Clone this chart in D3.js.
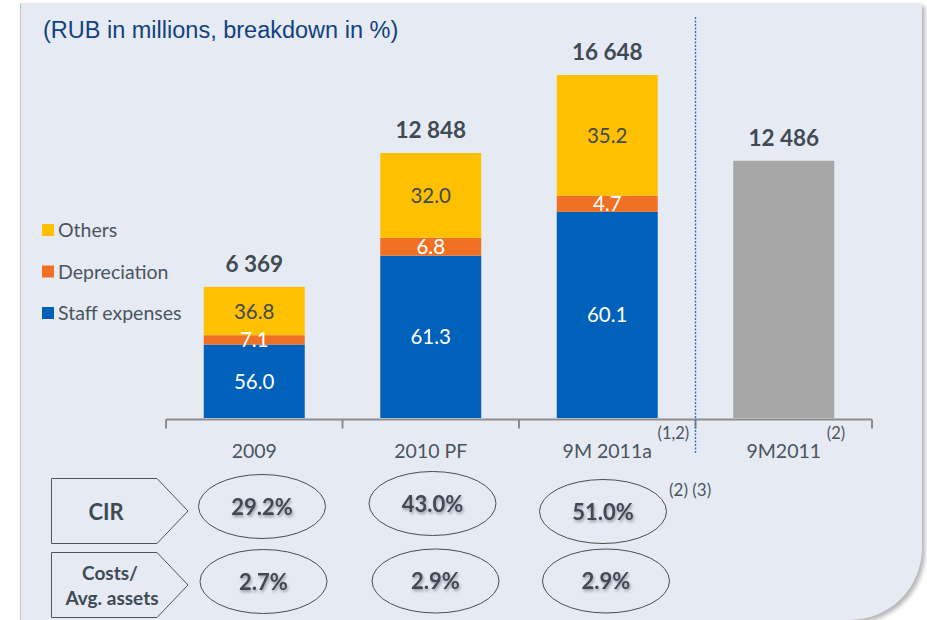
<!DOCTYPE html>
<html><head><meta charset="utf-8">
<script src="https://cdn.jsdelivr.net/npm/d3@7"></script>
<style>
html,body{margin:0;padding:0;background:#fff;}
svg{display:block;}
</style></head>
<body>
<svg id="c" width="927" height="620"></svg>
<script>
const categories = ["2009", "2010 PF", "9M 2011a", "9M2011"];
const superscripts = ["", "", "(1,2)", "(2)"];
const totals = [6369, 12848, 16648, 12486];
const staffPct = [56.0, 61.3, 60.1, null];
const deprPct = [7.1, 6.8, 4.7, null];
const othersPct = [36.8, 32.0, 35.2, null];
const seriesNames = ["Staff expenses", "Depreciation", "Others"];
const cirLabels = ["29.2%", "43.0%", "51.0%"];
const costAssetLabels = ["2.7%", "2.9%", "2.9%"];

const colors = {"Staff expenses": "#0061bb", "Depreciation": "#f07124", "Others": "#ffc000"};
const greyBar = "#a6a6a6";
const darkText = "#3f4a55";
const calibri = "Lato, 'Open Sans', sans-serif";

const svg = d3.select("#c");
const defs = svg.append("defs");
const f = defs.append("filter").attr("id","sh").attr("x","-20%").attr("y","-20%").attr("width","140%").attr("height","140%");
f.append("feGaussianBlur").attr("stdDeviation", 2);
const tf = defs.append("filter").attr("id","tsh").attr("x","-20%").attr("y","-40%").attr("width","140%").attr("height","180%");
tf.append("feDropShadow").attr("dx",1).attr("dy",2).attr("stdDeviation",1.5).attr("flood-color","#000").attr("flood-opacity",0.35);

// panel
const panelPath = "M20,3 H922 V548 A72,72 0 0 1 850,620 H20 Z";
svg.append("path").attr("d", panelPath).attr("transform","translate(3,3)").attr("fill","#b5b5b5").attr("filter","url(#sh)");
svg.append("path").attr("d", panelPath).attr("fill","#e6eaf2");
svg.append("line").attr("x1",20.5).attr("x2",20.5).attr("y1",3).attr("y2",620).attr("stroke","#c4c7cc").attr("stroke-width",1);

svg.append("text").attr("x",43).attr("y",38).attr("font-family","'Liberation Sans', Arial, sans-serif")
  .attr("font-size",23.5).attr("fill","#12427e").text("(RUB in millions, breakdown in %)");

// scales
const x = d3.scaleBand().domain(categories).range([166, 872]).paddingInner(0.428).paddingOuter(0.214);
const y = d3.scaleLinear().domain([0, 16648]).range([418, 75]);

// stacked data
const rows = categories.map((c, i) => ({
  cat: c,
  "Staff expenses": staffPct[i] == null ? 0 : totals[i] * staffPct[i] / 100,
  "Depreciation": deprPct[i] == null ? 0 : totals[i] * deprPct[i] / 100,
  "Others": othersPct[i] == null ? 0 : totals[i] * othersPct[i] / 100,
  pct: {"Staff expenses": staffPct[i], "Depreciation": deprPct[i], "Others": othersPct[i]}
}));
const stacked = d3.stack().keys(seriesNames)(rows.filter((r,i) => staffPct[i] != null));

const g = svg.append("g");
stacked.forEach(s => {
  g.selectAll(null).data(s).enter().append("rect")
    .attr("x", d => x(d.data.cat)).attr("width", x.bandwidth())
    .attr("y", d => y(d[1])).attr("height", d => y(d[0]) - y(d[1]))
    .attr("fill", colors[s.key]);
});
// grey bar
categories.forEach((c, i) => {
  if (staffPct[i] == null) {
    g.append("rect").attr("x", x(c)).attr("width", x.bandwidth())
      .attr("y", y(totals[i])).attr("height", y(0) - y(totals[i])).attr("fill", greyBar);
  }
});
// segment labels
stacked.forEach(s => {
  g.selectAll(null).data(s).enter().append("text")
    .attr("x", d => x(d.data.cat) + x.bandwidth()/2)
    .attr("y", d => (y(d[0]) + y(d[1]))/2 + 7.5)
    .attr("text-anchor","middle").attr("font-family", calibri).attr("font-size", 20.5)
    .attr("fill", s.key === "Others" ? darkText : "#ffffff")
    .text(d => d.data.pct[s.key].toFixed(1));
});
// totals
g.selectAll(null).data(categories).enter().append("text")
  .attr("x", c => x(c) + x.bandwidth()/2)
  .attr("y", (c, i) => y(totals[i]) - 15)
  .attr("text-anchor","middle").attr("font-family", calibri).attr("font-weight","bold")
  .attr("font-size", 22.5).attr("fill", darkText)
  .text((c, i) => d3.format(",")(totals[i]).replace(/,/g, " "));

// axis
const axisY = 419.5;
svg.append("line").attr("x1",166).attr("x2",872).attr("y1",axisY).attr("y2",axisY).attr("stroke","#8c8c8c").attr("stroke-width",2);
const ticks = d3.range(categories.length + 1).map(i => x.range()[0] + i * x.step());
svg.selectAll(null).data(ticks).enter().append("line")
  .attr("x1", d => d).attr("x2", d => d).attr("y1", axisY).attr("y2", axisY + 9)
  .attr("stroke","#8c8c8c").attr("stroke-width",2);
// category labels
svg.selectAll(null).data(categories).enter().append("text")
  .attr("x", c => x(c) + x.bandwidth()/2).attr("y", 458)
  .attr("text-anchor","middle").attr("font-family", calibri).attr("font-size", 19.5).attr("fill","#4a5560")
  .text(c => c);
svg.selectAll(null).data(categories).enter().append("text")
  .attr("x", (c,i) => x(c) + x.bandwidth()/2 + (i === 2 ? 82 : 43))
  .attr("y", 439).attr("text-anchor", (c,i)=> i===2 ? "end" : "start")
  .attr("font-family", calibri).attr("font-size", 16.5).attr("fill","#4a5560")
  .text((c,i) => superscripts[i]);

// separator dashed line
svg.append("line").attr("x1",695.5).attr("x2",695.5).attr("y1",17).attr("y2",454)
  .attr("stroke","#2a6fc9").attr("stroke-width",1.4).attr("stroke-dasharray","2,1.5");

// legend
const legendItems = ["Others", "Depreciation", "Staff expenses"];
const lg = svg.append("g");
legendItems.forEach((k, i) => {
  const cy = 230 + i * 41.5;
  lg.append("rect").attr("x",42).attr("y",cy - 6).attr("width",12).attr("height",12).attr("fill",colors[k]);
  lg.append("text").attr("x",58).attr("y",cy + 7).attr("font-family",calibri).attr("font-size",19.5)
    .attr("fill","#4a5560").text(k);
});

// bottom arrows
function arrowShape(top, bottom) {
  const mid = (top + bottom) / 2;
  return `M51.5,${top} H157 L188,${mid} L157,${bottom} H51.5 Z`;
}
svg.append("path").attr("d", arrowShape(478.5, 543.5)).attr("fill","#e6eaf2").attr("stroke","#555").attr("stroke-width",1);
svg.append("path").attr("d", arrowShape(552.5, 617.5)).attr("fill","#e6eaf2").attr("stroke","#555").attr("stroke-width",1);
svg.append("text").attr("x",106).attr("y",520).attr("text-anchor","middle").attr("font-family",calibri)
  .attr("font-weight","bold").attr("font-size",22).attr("fill",darkText).text("CIR");
svg.append("text").attr("x",110).attr("y",580).attr("text-anchor","middle").attr("font-family",calibri)
  .attr("font-weight","bold").attr("font-size",19).attr("fill",darkText).text("Costs/");
svg.append("text").attr("x",112).attr("y",605).attr("text-anchor","middle").attr("font-family",calibri)
  .attr("font-weight","bold").attr("font-size",19).attr("fill",darkText).text("Avg. assets");

// ellipses
const cirPos = [[262, 506.5], [432.5, 503.5], [603, 511.5]];
const caPos = [[263.5, 581.5], [435.5, 581], [606, 581]];
function ellipses(labels, pos) {
  labels.forEach((t, i) => {
    svg.append("ellipse").attr("cx", pos[i][0]).attr("cy", pos[i][1]).attr("rx", 63.5).attr("ry", 32)
      .attr("fill","none").attr("stroke","#4d4d4d").attr("stroke-width",1);
    svg.append("text").attr("x", pos[i][0]).attr("y", pos[i][1] + 8).attr("text-anchor","middle")
      .attr("font-family",calibri).attr("font-weight","bold").attr("font-size",22).attr("fill",darkText)
      .attr("filter","url(#tsh)").text(t);
  });
}
ellipses(cirLabels, cirPos);
ellipses(costAssetLabels, caPos);
svg.append("text").attr("x",669).attr("y",496).attr("font-family",calibri).attr("font-size",17)
  .attr("fill","#4a5560").text("(2) (3)");
</script>
</body></html>
